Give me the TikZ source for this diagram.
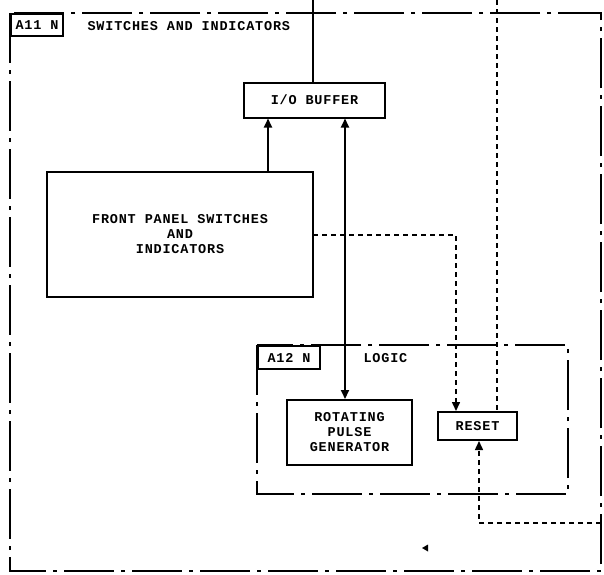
\documentclass[tikz,border=0pt]{standalone}
\usepackage{fontspec}
\newfontfamily\dmfont{Liberation Mono}[LetterSpace=6]
\usetikzlibrary{arrows.meta}
\tikzset{
  blk/.style={draw, line width=2pt, inner sep=0pt, align=center},
  bord/.style={line width=2.1pt, dash pattern=on 50pt off 7pt on 4pt off 7pt},
  sig/.style={line width=1.8pt},
  dsig/.style={line width=1.5pt, dash pattern=on 5pt off 4pt},
  tip/.style={-{Triangle[width=8pt,length=9pt]}},
  txt/.style={font=\dmfont\bfseries\fontsize{13.5}{15}\selectfont},
}
\begin{document}
\begin{tikzpicture}[x=1pt,y=-1pt,txt]
\useasboundingbox[fill=white] (0,0) rectangle (604,574);
% outer A11 boundary
\draw[bord] (10,13) rectangle (601,571);
\node[blk, minimum width=52pt, minimum height=22pt, anchor=north west] (a11) at (10,13) {A11 N};
\node[anchor=west] (a11t) at (84,26) {SWITCHES AND INDICATORS};
% A12 boundary
\draw[bord] (257,345) rectangle (568,494);
\node[blk, minimum width=62pt, minimum height=23pt, anchor=north west] (a12) at (257,345) {A12 N};
\node[anchor=west] (a12t) at (360,358) {LOGIC};
% blocks
\node[blk, minimum width=141pt, minimum height=35pt] (io) at (314.5,100) {I/O BUFFER};
\node[blk, minimum width=266pt, minimum height=125pt] (fp) at (180,234.5) {FRONT PANEL SWITCHES\\AND\\INDICATORS};
\node[blk, minimum width=125pt, minimum height=65pt] (rpg) at (349.5,432.5) {ROTATING\\PULSE\\GENERATOR};
\node[blk, minimum width=79pt, minimum height=28pt] (rst) at (477.5,426) {RESET};
% coordinates
\coordinate (iotop) at (313,0);
\coordinate (rtop) at (497,0);
\coordinate (fpout) at (313,235);
\coordinate (rin) at (601,523);
% connectors
\draw[sig] (iotop) -- (iotop |- io.north);
\draw[sig, tip] (fp.north -| 268,0) -- (io.south -| 268,0);
\draw[sig, {Triangle[width=8pt,length=9pt]}-{Triangle[width=8pt,length=9pt]}] (io.south -| 345,0) -- (rpg.north -| 345,0);
\draw[dsig, tip] (fpout) -- (456,235) -- (rst.north -| 456,0);
\draw[dsig] (rtop) -- (rst.north -| rtop);
\draw[dsig, tip] (rin) -- (479,523) -- (rst.south -| 479,0);
% small mark
\fill (422,548) -- (428,544.5) -- (428,551.5) -- cycle;
\end{tikzpicture}
\end{document}
